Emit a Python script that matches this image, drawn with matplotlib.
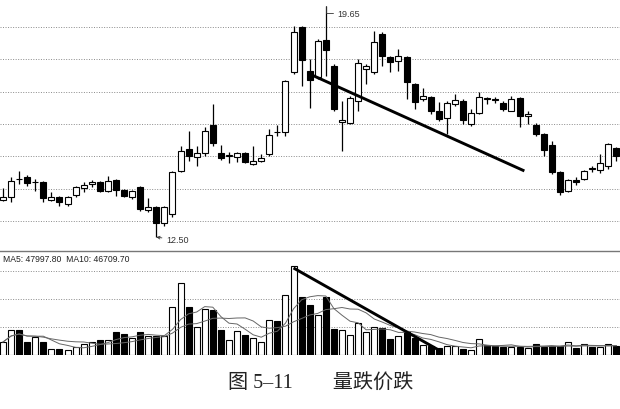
import matplotlib.pyplot as plt
from matplotlib.lines import Line2D
import numpy as np
import pandas as pd

plt.rcParams['font.family'] = ['Liberation Sans', 'DejaVu Sans']

# ------------------ DATOS ------------------
apertura = [13.65, 13.74, 14.31, 14.36, 14.20, 14.21, 13.65, 13.74, 13.53, 13.81,
            14.02, 14.15, 14.21, 13.93, 14.27, 13.96, 13.74, 14.05, 13.34, 13.43,
            12.94, 13.22, 14.55, 15.23, 14.98, 15.11, 15.98, 15.11, 15.02, 14.98,
            15.11, 14.77, 14.86, 15.08, 15.76, 15.76, 17.62, 19.01, 17.65, 17.46,
            18.61, 17.81, 16.07, 16.04, 16.72, 17.71, 17.62, 18.80, 18.08, 17.96,
            18.08, 17.25, 16.78, 16.84, 16.41, 16.19, 16.63, 16.72, 16.01, 16.35,
            16.79, 16.76, 16.66, 16.41, 16.81, 16.26, 15.98, 15.70, 15.36, 14.52,
            13.93, 14.27, 14.30, 14.64, 14.58, 14.71, 15.26]
cierre = [13.74, 14.24, 14.29, 14.18, 14.22, 13.71, 13.74, 13.59, 13.74, 14.05,
          14.12, 14.21, 13.93, 14.24, 13.96, 13.78, 13.93, 13.37, 13.43, 12.94,
          13.43, 14.52, 15.17, 15.02, 15.11, 15.79, 15.42, 14.95, 15.05, 15.11,
          14.83, 14.86, 14.95, 15.67, 15.75, 17.34, 18.86, 17.99, 17.37, 18.58,
          18.30, 16.47, 16.13, 16.81, 17.90, 17.81, 18.55, 18.12, 17.93, 18.12,
          17.31, 16.69, 16.88, 16.41, 16.16, 16.66, 16.75, 16.13, 16.35, 16.84,
          16.78, 16.75, 16.47, 16.78, 16.26, 16.32, 15.70, 15.20, 14.52, 13.90,
          14.27, 14.21, 14.55, 14.61, 14.80, 15.39, 15.02]
maximo = [14.02, 14.36, 14.55, 14.43, 14.30, 14.24, 13.90, 13.78, 13.78, 14.09,
          14.21, 14.27, 14.24, 14.40, 14.30, 13.99, 13.96, 14.09, 13.71, 13.47,
          13.47, 14.55, 15.33, 15.79, 15.33, 15.91, 16.63, 15.36, 15.14, 15.14,
          15.14, 15.33, 15.08, 15.85, 15.98, 17.37, 19.05, 19.05, 18.02, 18.64,
          19.65, 17.87, 16.72, 16.88, 18.02, 17.87, 18.89, 18.86, 18.12, 18.33,
          18.12, 17.28, 17.12, 16.88, 16.69, 16.72, 16.94, 16.78, 16.47, 17.00,
          16.84, 16.84, 16.72, 16.88, 16.84, 16.41, 16.04, 15.73, 15.48, 14.55,
          14.30, 14.36, 14.58, 14.71, 15.08, 15.42, 15.29]
minimo = [13.62, 13.59, 14.15, 14.09, 13.93, 13.59, 13.62, 13.47, 13.47, 13.74,
          13.90, 14.05, 13.90, 13.90, 13.78, 13.74, 13.68, 13.31, 13.28, 12.50,
          12.85, 13.12, 14.52, 14.86, 14.71, 15.02, 15.33, 14.89, 14.80, 14.83,
          14.80, 14.74, 14.83, 15.02, 15.64, 15.64, 17.56, 17.19, 16.50, 17.40,
          17.50, 16.41, 15.17, 16.01, 16.41, 17.25, 17.56, 17.81, 17.62, 17.65,
          16.78, 16.47, 16.72, 16.32, 16.10, 15.70, 16.57, 16.01, 15.95, 16.32,
          16.63, 16.66, 16.41, 16.41, 15.91, 16.01, 15.64, 15.02, 14.46, 13.81,
          13.90, 14.12, 14.27, 14.52, 14.49, 14.61, 14.86]
# volumen en manos
volumen = [65000, 125000, 125000, 65000, 90000, 65000, 30000, 30000, 25000, 40000,
           55000, 65000, 75000, 75000, 115000, 105000, 85000, 115000, 95000, 95000,
           95000, 240000, 360000, 240000, 140000, 230000, 225000, 125000, 75000, 120000,
           100000, 85000, 65000, 175000, 170000, 300000, 445000, 290000, 250000, 200000,
           290000, 130000, 125000, 100000, 160000, 115000, 140000, 135000, 80000, 95000,
           115000, 85000, 50000, 45000, 35000, 45000, 45000, 30000, 25000, 80000,
           50000, 45000, 40000, 40000, 40000, 35000, 55000, 40000, 45000, 45000,
           65000, 35000, 55000, 40000, 40000, 55000, 45000]

# lineas de tendencia dibujadas en el libro (indice de vela, valor)
tendencia_precio = ([38, 64.6], [17.55, 14.55])
tendencia_vol = ([36, 54.2], [435000, 20000])

niveles_precio = [13, 14, 15, 16, 17, 18, 19]
niveles_vol = [140000, 280000, 420000]

texto_ma = 'MA5: 47997.80  MA10: 46709.70'
titulo = '图 5–11        量跌价跌'

# ------------------ GRAFICO ------------------
df = pd.DataFrame({'o': apertura, 'c': cierre, 'h': maximo, 'l': minimo, 'v': volumen})
x = np.arange(len(df))
sube = df['c'] >= df['o']
ancho = 0.74

fig = plt.figure(figsize=(6.2, 4.1), dpi=100)
ax = fig.add_axes([0, 160 / 410, 1, 250 / 410])
axv = fig.add_axes([0, 54 / 410, 1, 100 / 410])

xlim = (-0.37, 76.45)

# precio
for nivel in niveles_precio:
    ax.axhline(nivel, color='#8a8a8a', lw=0.7, ls=(0, (1, 1.6)), zorder=0)
ax.vlines(x, df['l'], df['h'], color='black', lw=0.9, zorder=1)
cuerpo = (df['c'] - df['o']).abs().clip(lower=0.015)
base = df[['o', 'c']].min(axis=1)
ax.bar(x, cuerpo, bottom=base, width=ancho,
       color=np.where(sube, 'white', 'black'), edgecolor='black', lw=0.8, zorder=2)
ax.plot(tendencia_precio[0], tendencia_precio[1], color='black', lw=2.1,
        solid_capstyle='butt', zorder=3)

i_max = int(df['h'].idxmax())
ax.annotate(f"{df['h'].max():.2f}", xy=(i_max, df['h'].max()), xytext=(8, -5),
            textcoords='offset points', fontsize=6.5, color='#333333', va='center',
            arrowprops=dict(arrowstyle='-', lw=0.6, color='#333333', shrinkA=1, shrinkB=0,
                            connectionstyle='angle,angleA=180,angleB=90,rad=0'))
i_min = int(df['l'].idxmin())
ax.annotate(f"{df['l'].min():.2f}", xy=(i_min, df['l'].min()), xytext=(7, -2),
            textcoords='offset points', fontsize=6.5, color='#333333', va='center',
            arrowprops=dict(arrowstyle='->', lw=0.6, color='#333333', shrinkA=1, shrinkB=0,
                            mutation_scale=5))

ax.set_xlim(*xlim)
ax.set_ylim(12.133, 19.873)
ax.axis('off')

# volumen
for nivel in niveles_vol:
    axv.axhline(nivel, color='#8a8a8a', lw=0.7, ls=(0, (1, 1.6)), zorder=0)
axv.bar(x, df['v'], width=ancho, color=np.where(sube, 'white', 'black'),
        edgecolor='black', lw=0.8, zorder=2)
ma5 = df['v'].rolling(5, min_periods=1).mean()
ma10 = df['v'].rolling(10, min_periods=1).mean()
axv.plot(x, ma5, color='#666666', lw=0.7, zorder=3)
axv.plot(x, ma10, color='#666666', lw=0.7, zorder=3)
axv.plot(tendencia_vol[0], tendencia_vol[1], color='black', lw=2.1,
         solid_capstyle='butt', zorder=4)
axv.set_xlim(*xlim)
axv.set_ylim(0, 500000)
axv.axis('off')
axv.text(0.005, 0.96, texto_ma, transform=axv.transAxes, fontsize=6.2,
         color='#222222', va='center', ha='left')

# separador entre paneles
fig.add_artist(Line2D([0, 1], [158 / 410, 158 / 410], color='#777777', lw=1.0))

fig.text(321 / 620, 27 / 410, titulo, ha='center', va='center', fontsize=14.5,
         family=['Liberation Serif', 'Noto Sans CJK SC'], color='#222222')

fig.savefig('out.png', dpi=100)
